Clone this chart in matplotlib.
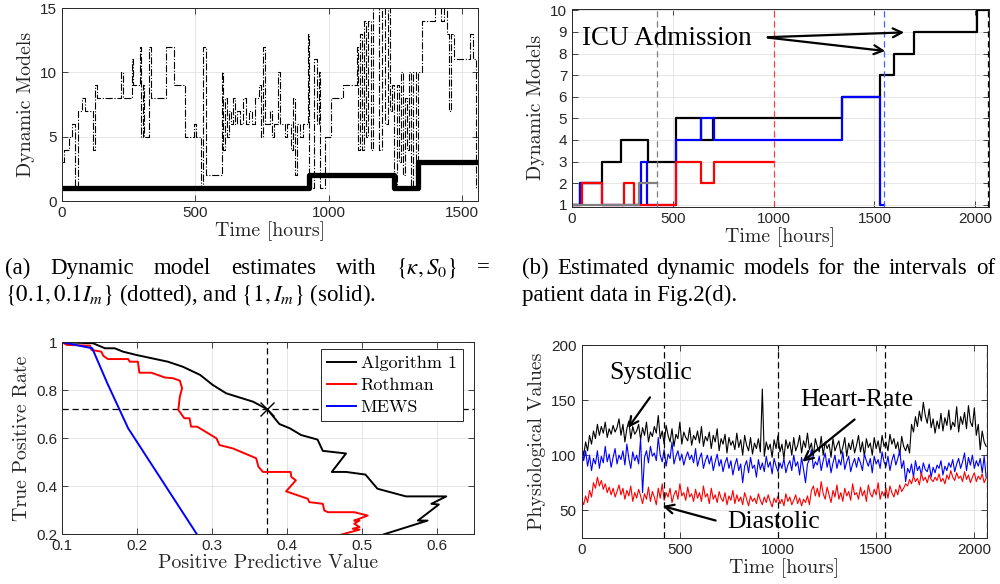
import numpy as np
import matplotlib
matplotlib.use("Agg")
import matplotlib.pyplot as plt

plt.rcParams['mathtext.fontset'] = 'stix'
plt.rcParams['font.family'] = 'Liberation Sans'

# ---- (a) dynamic model estimates
a_dot_t = [0, 8, 25, 38, 50, 60, 75, 88, 115, 122, 132, 220, 228, 262, 266, 292, 296, 302, 308, 328,
           335, 390, 420, 460, 496, 504, 522, 530, 540, 600, 604, 610, 618, 625, 632, 640, 648, 656, 668, 680,
           690, 700, 712, 724, 740, 748, 752, 760, 780, 788, 795, 810, 818, 835, 845, 858, 866, 872, 880, 892,
           905, 922, 928, 935, 945, 955, 962, 968, 985, 1010, 1055, 1070, 1105, 1110, 1118, 1125, 1132, 1140, 1148, 1160,
           1168, 1190, 1200, 1212, 1222, 1230, 1238, 1245, 1255, 1262, 1270, 1278, 1286, 1294, 1300, 1308, 1316, 1326, 1334, 1350,
           1400, 1420, 1432, 1445, 1452, 1458, 1470, 1530, 1540, 1552, 1560]
a_dot_v = [3, 4, 5, 6, 1, 7, 8, 7, 4, 9, 8, 10, 8, 11, 9, 12, 5, 9, 5, 12,
           8, 12, 9, 5, 6, 5, 1, 12, 2, 10, 4, 8, 5, 7, 6, 8, 6, 7, 6, 8,
           6, 7, 6, 8, 9, 5, 12, 6, 7, 5, 6, 10, 6, 5, 6, 4, 8, 2, 6, 5,
           6, 13, 2, 1, 11, 6, 10, 1, 5, 8, 9, 9, 12, 4, 13, 4, 14, 5, 14, 4,
           15, 4, 15, 6, 15, 7, 9, 1, 9, 3, 10, 2, 8, 4, 10, 1, 10, 2, 10, 14,
           15, 14, 15, 13, 7, 13, 11, 13, 11, 1, 1]
a_sol_t = [0, 925, 1245, 1335, 1560]
a_sol_v = [1, 2, 1, 3, 3]

# ---- (b) estimated dynamic models per interval
b_black_t = [0, 40, 150, 245, 375, 515, 640, 700, 1339, 1525, 1596, 1696, 2008, 2062]
b_black_v = [1, 2, 3, 4, 3, 5, 4, 5, 6, 7, 8, 9, 10, 10]
b_blue_t = [0, 40, 150, 342, 372, 515, 638, 704, 1339, 1525, 1545]
b_blue_v = [1, 2, 1, 3, 1, 4, 5, 4, 6, 1, 1]
b_red_t = [0, 50, 150, 258, 308, 515, 638, 704, 1000]
b_red_v = [1, 2, 1, 2, 1, 3, 2, 3, 3]
b_gray_t = [0, 332, 421]
b_gray_v = [1, 2, 2]
interval_ends = [421, 1000, 1545, 2062]

# ---- (c) TPR vs PPV
alg_ppv = [0.100, 0.141, 0.157, 0.170, 0.181, 0.199, 0.241, 0.261, 0.284, 0.301, 0.319, 0.355, 0.374, 0.390, 0.404,
           0.419, 0.441, 0.448, 0.479, 0.460, 0.479, 0.505, 0.521, 0.559, 0.613, 0.593, 0.603, 0.575, 0.588, 0.529]
alg_tpr = [1.000, 0.996, 0.975, 0.975, 0.961, 0.947, 0.919, 0.898, 0.864, 0.822, 0.787, 0.752, 0.720, 0.659, 0.641,
           0.613, 0.594, 0.547, 0.536, 0.459, 0.459, 0.448, 0.389, 0.357, 0.357, 0.326, 0.323, 0.256, 0.256, 0.198]
rot_ppv = [0.100, 0.106, 0.137, 0.139, 0.152, 0.155, 0.161, 0.188, 0.190, 0.201, 0.203, 0.219, 0.237, 0.248, 0.257, 0.260,
           0.257, 0.255, 0.263, 0.270, 0.272, 0.280, 0.295, 0.306, 0.310, 0.328, 0.359, 0.362, 0.368, 0.405, 0.406, 0.412,
           0.399, 0.428, 0.430, 0.448, 0.450, 0.455, 0.490, 0.508, 0.490, 0.497, 0.490, 0.497, 0.488, 0.497, 0.473]
rot_tpr = [1.000, 0.989, 0.986, 0.968, 0.961, 0.943, 0.930, 0.930, 0.919, 0.919, 0.873, 0.873, 0.853, 0.850, 0.840, 0.808,
           0.773, 0.718, 0.683, 0.683, 0.648, 0.648, 0.620, 0.599, 0.571, 0.557, 0.516, 0.481, 0.459, 0.459, 0.438, 0.424,
           0.378, 0.347, 0.333, 0.326, 0.298, 0.291, 0.291, 0.277, 0.256, 0.256, 0.243, 0.229, 0.222, 0.218, 0.198]
mews_ppv = [0.100, 0.140, 0.160, 0.188, 0.280]
mews_tpr = [1.000, 0.975, 0.830, 0.641, 0.198]
op_ppv, op_tpr = 0.374, 0.72

# ---- (d) physiological values, one sample every 10 hours
vit_t = np.arange(0, 2061, 10)
systolic = [108, 100, 112, 104, 118, 110, 122, 115, 128, 118, 126, 120, 130, 116, 124, 119, 127, 121, 125, 133,
            118, 128, 112, 124, 131, 115, 126, 119, 122, 128, 114, 125, 118, 130, 112, 121, 117, 126, 120, 136,
            115, 122, 110, 127, 118, 112, 124, 108, 119, 115, 130, 110, 121, 116, 113, 125, 109, 118, 114, 122,
            111, 126, 108, 117, 113, 121, 106, 118, 112, 124, 104, 115, 110, 119, 102, 116, 109, 113, 105, 120,
            107, 114, 100, 118, 109, 104, 116, 101, 111, 106, 115, 103, 160, 99, 112, 105, 110, 98, 114, 106,
            118, 103, 110, 97, 114, 106, 112, 100, 116, 104, 109, 118, 102, 113, 107, 120, 105, 111, 99, 115,
            108, 103, 117, 100, 112, 106, 110, 98, 115, 104, 109, 113, 101, 107, 116, 99, 111, 105, 114, 102,
            109, 118, 103, 112, 99, 115, 107, 111, 100, 116, 106, 113, 102, 118, 108, 112, 104, 119, 110, 115,
            106, 112, 100, 117, 108, 104, 110, 102, 128, 121, 135, 126, 140, 131, 148, 136, 129, 142, 125, 133,
            120, 131, 124, 138, 122, 134, 127, 141, 123, 130, 126, 144, 121, 135, 128, 139, 124, 145, 130, 126,
            143, 118, 128, 105, 122, 112, 108]
heart_rate = [110, 95, 104, 90, 100, 86, 97, 92, 104, 88, 99, 93, 108, 94, 101, 89, 98, 106, 92, 100,
              96, 104, 91, 110, 97, 88, 103, 95, 100, 92, 115, 66, 98, 104, 93, 108, 99, 102, 95, 116,
              100, 94, 105, 90, 101, 97, 112, 92, 99, 104, 95, 101, 91, 98, 103, 96, 100, 93, 106, 90,
              97, 102, 88, 95, 100, 92, 99, 86, 94, 101, 90, 96, 85, 93, 98, 88, 95, 82, 91, 97,
              86, 92, 75, 90, 95, 84, 98, 88, 91, 80, 96, 87, 93, 85, 99, 89, 94, 83, 97, 90,
              85, 93, 88, 97, 84, 91, 95, 86, 100, 90, 94, 82, 98, 87, 75, 92, 96, 105, 88, 94,
              91, 99, 86, 95, 102, 89, 97, 84, 93, 100, 88, 96, 91, 103, 87, 94, 99, 85, 92, 97,
              89, 98, 93, 86, 101, 95, 90, 97, 84, 99, 92, 96, 88, 103, 94, 90, 99, 86, 95, 101,
              91, 97, 104, 88, 95, 76, 88, 84, 92, 80, 95, 86, 90, 82, 93, 87, 85, 92, 80, 89,
              84, 91, 88, 95, 82, 90, 86, 93, 89, 96, 85, 92, 97, 88, 94, 102, 86, 98, 91, 100,
              88, 95, 90, 97, 84, 99, 80]
diastolic = [60, 55, 63, 57, 68, 62, 75, 70, 80, 72, 77, 69, 74, 66, 71, 64, 70, 62, 67, 73,
             64, 70, 60, 68, 63, 72, 58, 66, 61, 69, 63, 56, 65, 60, 71, 58, 67, 62, 55, 70,
             61, 74, 59, 66, 62, 70, 57, 64, 68, 60, 74, 63, 66, 59, 71, 62, 65, 58, 69, 61,
             66, 58, 72, 62, 65, 56, 70, 60, 64, 57, 67, 61, 58, 66, 55, 63, 59, 68, 56, 64,
             58, 62, 55, 66, 60, 54, 63, 58, 61, 56, 65, 59, 55, 62, 57, 64, 58, 53, 61, 57,
             63, 56, 60, 54, 65, 58, 62, 55, 59, 64, 56, 61, 54, 60, 57, 63, 55, 68, 72, 63,
             70, 62, 76, 65, 60, 71, 64, 57, 68, 62, 73, 60, 66, 58, 70, 63, 67, 59, 74, 64,
             66, 60, 71, 63, 68, 58, 73, 65, 62, 69, 64, 75, 60, 67, 63, 70, 61, 72, 66, 62,
             69, 64, 73, 67, 70, 74, 72, 78, 74, 81, 76, 79, 73, 84, 77, 80, 75, 82, 78, 76,
             80, 77, 83, 76, 79, 74, 82, 78, 86, 80, 77, 84, 79, 81, 76, 85, 78, 82, 75, 80,
             84, 76, 81, 78, 83, 75, 79]

cap_a1 = ['(a)', 'Dynamic', 'model', 'estimates', 'with', r'$\{\kappa, S_0\}$', '=']
cap_a2 = r'$\{0.1, 0.1I_m\}$ (dotted), and $\{1, I_m\}$ (solid).'
cap_b1 = ['(b)', 'Estimated', 'dynamic', 'models', 'for', 'the', 'intervals', 'of']
cap_b2 = 'patient data in Fig.2(d).'

lab = dict(family='cmr10', size=14.3, color='#262626')
note = dict(family='Liberation Serif', size=18.5)
arr = dict(arrowstyle='->', color='black', lw=1.6, mutation_scale=16)


def style(ax):
    ax.grid(True, color='#e2e2e2', lw=0.6)
    ax.set_axisbelow(True)
    ax.tick_params(direction='in', top=True, right=True, length=4, width=0.6,
                   labelsize=11, colors='#262626')
    for s in ax.spines.values():
        s.set_linewidth(0.7)
        s.set_color('#262626')


def justify(fig, words, x0, x1, y, **kw):
    # spread the words so the line fills x0..x1 (pixels), like a justified caption
    r = fig.canvas.get_renderer()
    objs = [fig.text(0, y, w, **kw) for w in words]
    widths = [t.get_window_extent(r).width for t in objs]
    gap = (x1 - x0 - sum(widths)) / (len(words) - 1)
    x = x0
    for t, w in zip(objs, widths):
        t.set_x(x / fig.bbox.width)
        x += w + gap


fig = plt.figure(figsize=(10, 5.84), dpi=100)

# (a)
ax = fig.add_axes([0.062, 0.6558, 0.416, 0.3305])
style(ax)
ax.plot(a_dot_t, a_dot_v, color='black', ls='-.', lw=0.8, drawstyle='steps-post')
ax.plot(a_sol_t, a_sol_v, color='black', lw=3.8, drawstyle='steps-post')
ax.set_xlim(0, 1560)
ax.set_ylim(0, 15)
ax.set_xticks([0, 500, 1000, 1500])
ax.set_yticks([0, 5, 10, 15])
ax.set_xlabel('Time [hours]', labelpad=1, **lab)
ax.set_ylabel('Dynamic Models', labelpad=4, **lab)

# (b)
ax = fig.add_axes([0.572, 0.6455, 0.417, 0.3399])
style(ax)
ax.plot(b_black_t, b_black_v, color='black', lw=1.6, drawstyle='steps-post')
ax.plot(b_blue_t, b_blue_v, color='#0000ff', lw=1.6, drawstyle='steps-post')
ax.plot(b_red_t, b_red_v, color='#ff0000', lw=1.6, drawstyle='steps-post')
ax.plot(b_gray_t, b_gray_v, color='#808080', lw=1.6, drawstyle='steps-post')
for xe, c in zip(interval_ends, ['#808080', '#ff4040', '#4060ff', 'black']):
    ax.axvline(xe, color=c, ls=(0, (5, 3)), lw=0.9)
ax.set_xlim(0, 2068)
ax.set_ylim(0.9, 10.08)
ax.set_xticks([0, 500, 1000, 1500, 2000])
ax.set_yticks(range(1, 11))
ax.set_xlabel('Time [hours]', labelpad=1, **lab)
ax.set_ylabel('Dynamic Models', labelpad=4, **lab)
ax.text(471, 8.71, 'ICU Admission', ha='center', va='center', family='Liberation Serif', size=19.5)
ax.annotate('', xy=(1661, 8.98), xytext=(957, 8.75), arrowprops=arr)
ax.annotate('', xy=(1567, 8.1), xytext=(957, 8.75), arrowprops=arr)

# (c)
ax = fig.add_axes([0.0623, 0.0856, 0.4117, 0.3283])
style(ax)
ax.axhline(op_tpr, color='black', ls=(0, (5, 3)), lw=0.9)
ax.axvline(op_ppv, color='black', ls=(0, (5, 3)), lw=0.9)
ax.plot(alg_ppv, alg_tpr, color='black', lw=1.4, label='Algorithm 1')
ax.plot(rot_ppv, rot_tpr, color='#ff0000', lw=1.4, label='Rothman')
ax.plot(mews_ppv, mews_tpr, color='#0000ff', lw=1.4, label='MEWS')
ax.plot([op_ppv], [op_tpr], marker='x', color='black', ms=10, mew=1.0)
ax.set_xlim(0.1, 0.65)
ax.set_ylim(0.2, 1.0)
ax.set_xticks([0.1, 0.2, 0.3, 0.4, 0.5, 0.6])
ax.set_yticks([0.2, 0.4, 0.6, 0.8, 1.0])
ax.set_yticklabels(['0.2', '0.4', '0.6', '0.8', '1'])
ax.set_xlabel('Positive Predictive Value', labelpad=1, **lab)
ax.set_ylabel('True Positive Rate', labelpad=4, **lab)
leg = ax.legend(loc='upper right', bbox_to_anchor=(0.973, 0.965), prop=dict(family='cmr10', size=13),
                fancybox=False, framealpha=1, edgecolor='#262626', handlelength=1.6,
                borderpad=0.35, labelspacing=0.35, handletextpad=0.25, borderaxespad=0)
leg.get_frame().set_linewidth(0.7)

# (d)
ax = fig.add_axes([0.5817, 0.0782, 0.4056, 0.331])
style(ax)
ax.plot(vit_t, systolic, color='black', lw=0.8)
ax.plot(vit_t, heart_rate, color='#0000ff', lw=0.8)
ax.plot(vit_t, diastolic, color='#ff0000', lw=0.8)
for xe in interval_ends:
    ax.axvline(xe, color='black', ls=(0, (5, 3)), lw=0.9)
ax.set_xlim(0, 2066)
ax.set_ylim(24.5, 200)
ax.set_xticks([0, 500, 1000, 1500, 2000])
ax.set_yticks([50, 100, 150, 200])
ax.set_xlabel('Time [hours]', labelpad=1, **lab)
ax.set_ylabel('Physiological Values', labelpad=4, **lab)
ax.text(352, 174.5, 'Systolic', ha='center', va='center', **note)
ax.annotate('', xy=(228, 122.7), xytext=(356, 154.5), arrowprops=arr)
ax.text(1403, 150, 'Heart-Rate', ha='center', va='center', **note)
ax.annotate('', xy=(1113, 92.5), xytext=(1401, 134), arrowprops=arr)
ax.text(980, 39.4, 'Diastolic', ha='center', va='center', **note)
ax.annotate('', xy=(398, 54.5), xytext=(696, 40), arrowprops=arr)

# captions
cap = dict(family='Liberation Serif', size=16.5, va='center')
y1, y2 = 1 - 268 / 584, 1 - 295 / 584
justify(fig, cap_a1, 5, 490, y1, **cap)
fig.text(0.005, y2, cap_a2, **cap)
justify(fig, cap_b1, 522, 995, y1, **cap)
fig.text(0.522, y2, cap_b2, **cap)

fig.savefig('out.png', dpi=100)
